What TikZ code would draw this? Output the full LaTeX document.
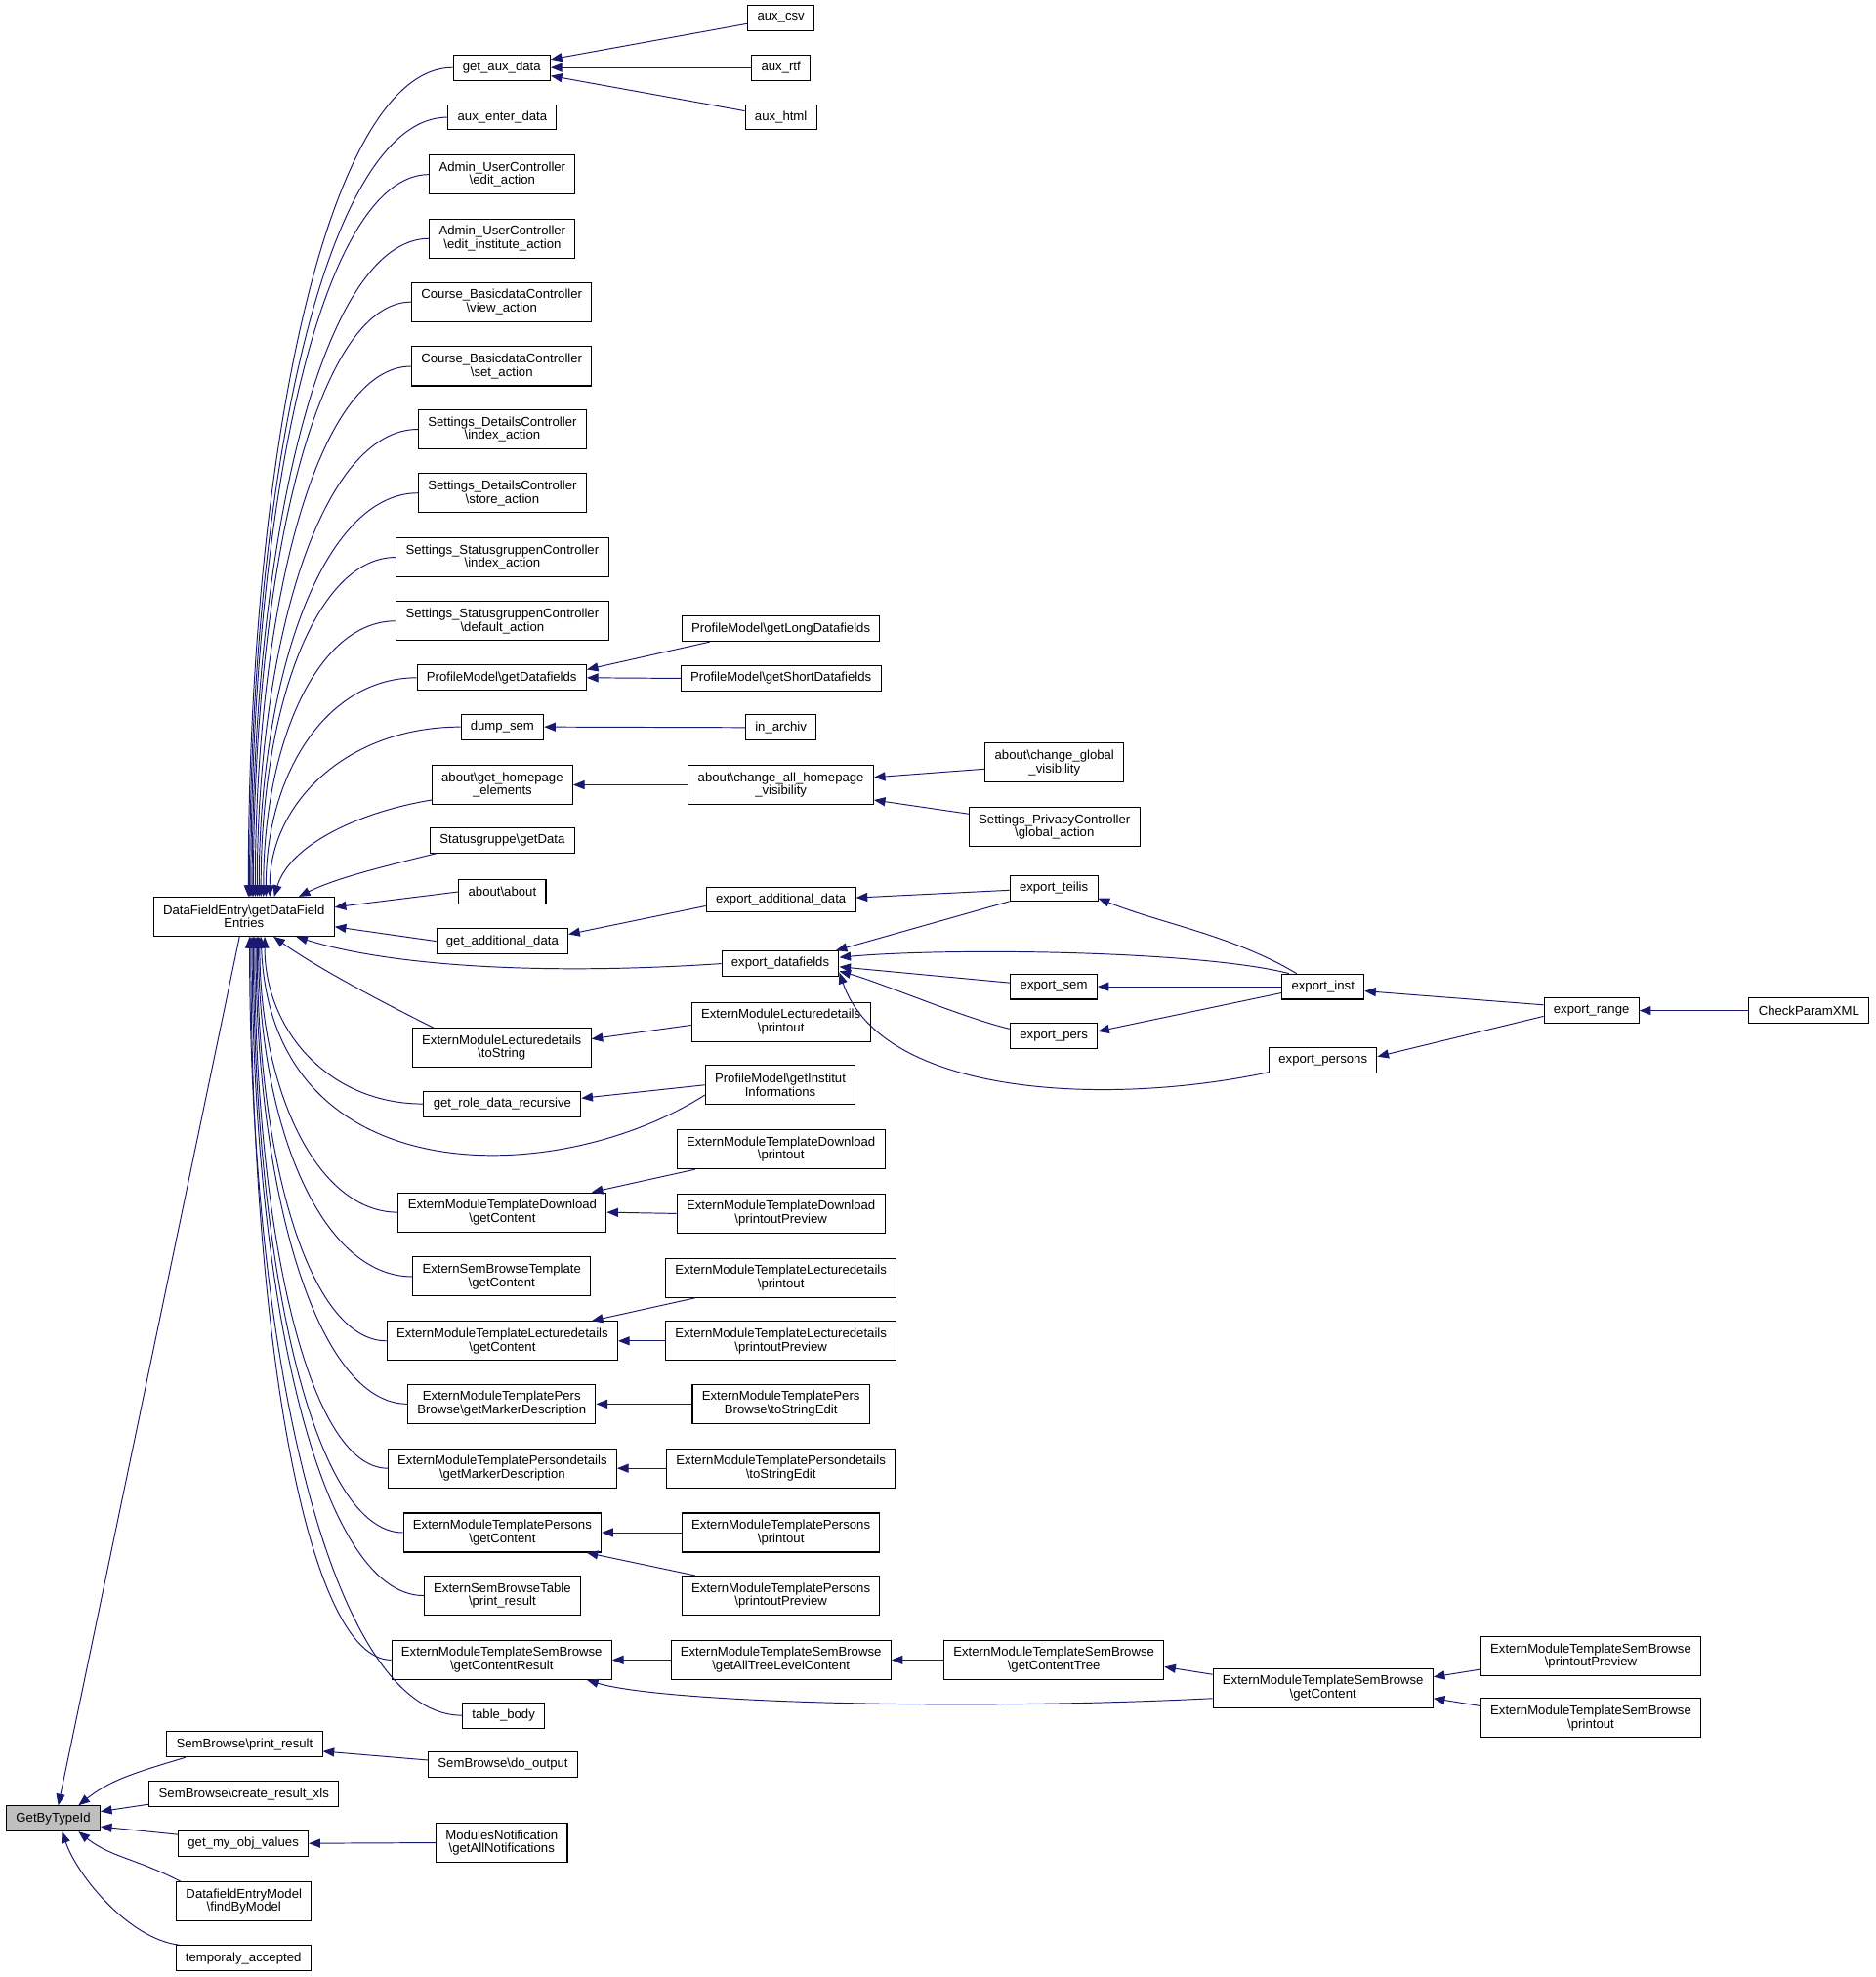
\documentclass[tikz,border=0pt]{standalone}
\usepackage{fontspec}
\setmainfont{Liberation Sans}
\usepackage{tikz}
\usetikzlibrary{arrows.meta}
\definecolor{edgeblue}{HTML}{191970}
\definecolor{hitgray}{HTML}{BFBFBF}

\begin{document}
\begin{tikzpicture}[x=1pt,y=-1pt,>={Triangle[length=9pt,width=7pt]},
  fnbox/.style={draw,line width=0.8pt,fill=white,inner xsep=7.6pt,inner ysep=0pt,
    minimum height=20pt,align=center,font=\fontsize{10.2}{10.6}\selectfont},
  fnbox2/.style={fnbox,minimum height=31pt},
  call/.style={->,draw=edgeblue,line width=0.75pt}]
  \useasboundingbox (0,0) rectangle (1488,1568);

  % root and its direct callers
  \node[fnbox,fill=hitgray] (gbt) at (42.25,1442.25) {GetByTypeId};
  \node[fnbox2] (dfe) at (193.5,727) {DataFieldEntry\textbackslash getDataField\\Entries};
  \node[fnbox] (prres) at (194,1383.5) {SemBrowse\textbackslash print\_result};
  \node[fnbox] (crxls) at (193.5,1423) {SemBrowse\textbackslash create\_result\_xls};
  \node[fnbox] (gmov) at (193,1462) {get\_my\_obj\_values};
  \node[fnbox2] (fbm) at (193.5,1508) {DatafieldEntryModel\\\textbackslash findByModel};
  \node[fnbox] (tacc) at (193,1553) {temporaly\_accepted};

  % callers of getDataFieldEntries
  \node[fnbox] (gad) at (398,53.6) {get\_aux\_data};
  \node[fnbox] (aed) at (398.5,93) {aux\_enter\_data};
  \node[fnbox2] (ueda) at (398.5,138.4) {Admin\_UserController\\\textbackslash edit\_action};
  \node[fnbox2] (ueia) at (398.5,189.2) {Admin\_UserController\\\textbackslash edit\_institute\_action};
  \node[fnbox2] (cbvw) at (398,239.5) {Course\_BasicdataController\\\textbackslash view\_action};
  \node[fnbox2] (cbst) at (398,290.5) {Course\_BasicdataController\\\textbackslash set\_action};
  \node[fnbox2] (sdix) at (398.5,340.5) {Settings\_DetailsController\\\textbackslash index\_action};
  \node[fnbox2] (sdst) at (398.5,391) {Settings\_DetailsController\\\textbackslash store\_action};
  \node[fnbox2] (ssix) at (398.5,442) {Settings\_StatusgruppenController\\\textbackslash index\_action};
  \node[fnbox2] (ssdf) at (398.5,492.5) {Settings\_StatusgruppenController\\\textbackslash default\_action};
  \node[fnbox] (gdf) at (398,537.5) {ProfileModel\textbackslash getDatafields};
  \node[fnbox] (dsem) at (398.5,576.5) {dump\_sem};
  \node[fnbox2] (ghe) at (398.5,622.5) {about\textbackslash get\_homepage\\\_elements};
  \node[fnbox] (sgd) at (398.5,666.5) {Statusgruppe\textbackslash getData};
  \node[fnbox] (abt) at (398.5,707.3) {about\textbackslash about};
  \node[fnbox] (gadd) at (398.5,746.5) {get\_additional\_data};
  \node[fnbox2] (elts) at (398,831) {ExternModuleLecturedetails\\\textbackslash toString};
  \node[fnbox] (grdr) at (398.5,875.5) {get\_role\_data\_recursive};
  \node[fnbox2] (mdgc) at (398.5,961.5) {ExternModuleTemplateDownload\\\textbackslash getContent};
  \node[fnbox2] (sbtg) at (398,1012.5) {ExternSemBrowseTemplate\\\textbackslash getContent};
  \node[fnbox2] (mlgc) at (398.5,1063.5) {ExternModuleTemplateLecturedetails\\\textbackslash getContent};
  \node[fnbox2] (mpbm) at (398,1113.5) {ExternModuleTemplatePers\\Browse\textbackslash getMarkerDescription};
  \node[fnbox2] (mpdm) at (398.5,1164.5) {ExternModuleTemplatePersondetails\\\textbackslash getMarkerDescription};
  \node[fnbox2] (mpgc) at (398.5,1215.5) {ExternModuleTemplatePersons\\\textbackslash getContent};
  \node[fnbox2] (sbtp) at (398.5,1265.5) {ExternSemBrowseTable\\\textbackslash print\_result};
  \node[fnbox2] (msgr) at (398,1316.5) {ExternModuleTemplateSemBrowse\\\textbackslash getContentResult};
  \node[fnbox] (tbody) at (399.5,1360.5) {table\_body};
  \node[fnbox] (sbdo) at (399,1399.5) {SemBrowse\textbackslash do\_output};
  \node[fnbox2] (mnot) at (398,1461.5) {ModulesNotification\\\textbackslash getAllNotifications};

  % third column
  \node[fnbox] (acsv) at (619.5,14.2) {aux\_csv};
  \node[fnbox] (artf) at (619.5,53.6) {aux\_rtf};
  \node[fnbox] (ahtm) at (619.5,93) {aux\_html};
  \node[fnbox] (pmld) at (619.5,498.7) {ProfileModel\textbackslash getLongDatafields};
  \node[fnbox] (pmsd) at (619.5,538) {ProfileModel\textbackslash getShortDatafields};
  \node[fnbox] (inar) at (619.5,577) {in\_archiv};
  \node[fnbox2] (cahv) at (619.5,622.5) {about\textbackslash change\_all\_homepage\\\_visibility};
  \node[fnbox] (eadd) at (619.5,713.5) {export\_additional\_data};
  \node[fnbox] (exdf) at (619,764.3) {export\_datafields};
  \node[fnbox2] (elpr) at (619.5,810.5) {ExternModuleLecturedetails\\\textbackslash printout};
  \node[fnbox2] (pmii) at (619,860.5) {ProfileModel\textbackslash getInstitut\\Informations};
  \node[fnbox2] (mdpr) at (619.5,911.5) {ExternModuleTemplateDownload\\\textbackslash printout};
  \node[fnbox2] (mdpp) at (619.5,962.5) {ExternModuleTemplateDownload\\\textbackslash printoutPreview};
  \node[fnbox2] (mlpr) at (619.5,1013.5) {ExternModuleTemplateLecturedetails\\\textbackslash printout};
  \node[fnbox2] (mlpp) at (619.5,1063.5) {ExternModuleTemplateLecturedetails\\\textbackslash printoutPreview};
  \node[fnbox2] (mpbs) at (619.5,1113.5) {ExternModuleTemplatePers\\Browse\textbackslash toStringEdit};
  \node[fnbox2] (mpds) at (619.5,1164.5) {ExternModuleTemplatePersondetails\\\textbackslash toStringEdit};
  \node[fnbox2] (mppr) at (619.5,1215.5) {ExternModuleTemplatePersons\\\textbackslash printout};
  \node[fnbox2] (mppp) at (619.5,1265.5) {ExternModuleTemplatePersons\\\textbackslash printoutPreview};
  \node[fnbox2] (msat) at (619.5,1316.5) {ExternModuleTemplateSemBrowse\\\textbackslash getAllTreeLevelContent};

  % further right
  \node[fnbox2] (cgv) at (836.5,605) {about\textbackslash change\_global\\\_visibility};
  \node[fnbox2] (spga) at (836.5,655.8) {Settings\_PrivacyController\\\textbackslash global\_action};
  \node[fnbox] (etei) at (836,704.5) {export\_teilis};
  \node[fnbox] (esem) at (836,782.5) {export\_sem};
  \node[fnbox] (epers) at (836,821.5) {export\_pers};
  \node[fnbox2] (msct) at (836,1316.5) {ExternModuleTemplateSemBrowse\\\textbackslash getContentTree};
  \node[fnbox] (einst) at (1049.5,782.5) {export\_inst};
  \node[fnbox] (eprs) at (1049.5,841) {export\_persons};
  \node[fnbox2] (msgc) at (1049.5,1339) {ExternModuleTemplateSemBrowse\\\textbackslash getContent};
  \node[fnbox] (erng) at (1262.5,801.5) {export\_range};
  \node[fnbox2] (mspp) at (1262,1313.5) {ExternModuleTemplateSemBrowse\\\textbackslash printoutPreview};
  \node[fnbox2] (mspr) at (1262,1362.5) {ExternModuleTemplateSemBrowse\\\textbackslash printout};
  \node[fnbox] (cpx) at (1435,801.5) {CheckParamXML};

  % calls into GetByTypeId
  \draw[call] ([xshift=-3.5pt]dfe.south) -- ([xshift=4pt]gbt.north);
  \draw[call] ([xshift=-47pt]prres.south) .. controls +(-40,12) and +(25,-20) .. ([xshift=20pt]gbt.north);
  \draw[call] ([yshift=-8pt]crxls.west) -- ([yshift=5.5pt]gbt.east);
  \draw[call] ([yshift=7pt]gmov.west) -- ([yshift=-6.5pt]gbt.east);
  \draw[call] ([xshift=3.5pt]fbm.north west) .. controls +(-35,-18) and +(25,20) .. ([xshift=20pt]gbt.south);
  \draw[call] ([xshift=3pt]tacc.north west) .. controls +(-40,-5) and +(12,35) .. ([xshift=7pt]gbt.south);
  \draw[call] ([yshift=3.5pt]sbdo.west) -- ([yshift=-5.5pt]prres.east);
  \draw[call] (mnot.west) -- (gmov.east);

  % calls into getDataFieldEntries, from above
  \draw[call] (gad.west) .. controls +(-97,0) and +(0,-362) .. ([xshift=3.5pt]dfe.north);
  \draw[call] (aed.west) .. controls +(-95,0) and +(0,-340) .. ([xshift=4.5pt]dfe.north);
  \draw[call] (ueda.west) .. controls +(-85,0) and +(0,-315) .. ([xshift=5.5pt]dfe.north);
  \draw[call] (ueia.west) .. controls +(-84,0) and +(0,-287) .. ([xshift=6.5pt]dfe.north);
  \draw[call] (cbvw.west) .. controls +(-75,0) and +(0,-260) .. ([xshift=7.5pt]dfe.north);
  \draw[call] (cbst.west) .. controls +(-74,0) and +(0,-232) .. ([xshift=9pt]dfe.north);
  \draw[call] (sdix.west) .. controls +(-76,0) and +(0,-204) .. ([xshift=10.5pt]dfe.north);
  \draw[call] (sdst.west) .. controls +(-75,0) and +(0,-176) .. ([xshift=12pt]dfe.north);
  \draw[call] (ssix.west) .. controls +(-64,0) and +(0,-148) .. ([xshift=13.5pt]dfe.north);
  \draw[call] (ssdf.west) .. controls +(-63,0) and +(0,-120) .. ([xshift=15.5pt]dfe.north);
  \draw[call] (gdf.west) .. controls +(-72,0) and +(0,-96) .. ([xshift=17.5pt]dfe.north);
  \draw[call] (dsem.west) .. controls +(-90,0) and +(0,-74) .. ([xshift=20.5pt]dfe.north);
  \draw[call] ([yshift=-12pt]ghe.west) .. controls +(-60,10) and +(12,-40) .. ([xshift=24pt]dfe.north);
  \draw[call] ([xshift=5pt]sgd.south west) .. controls +(-40,10) and +(30,-15) .. ([xshift=43.5pt]dfe.north);
  \draw[call] (abt.west) -- ([yshift=7.5pt]dfe.east);
  \draw[call] (gadd.west) -- ([yshift=-8pt]dfe.east);

  % calls into getDataFieldEntries, from below
  \draw[call] (exdf.west) .. controls +(-150,10) and +(70,22) .. ([xshift=41.5pt]dfe.south);
  \draw[call] ([xshift=17pt]elts.north west) .. controls +(-40,-20) and +(35,25) .. ([xshift=23.5pt]dfe.south);
  \draw[call] (grdr.west) .. controls +(-76,0) and +(0,73) .. ([xshift=16.5pt]dfe.south);
  \draw[call] ([yshift=-8pt]pmii.west) .. controls +(-118,75) and +(8,205) .. ([xshift=13.5pt]dfe.south);
  \draw[call] (mdgc.west) .. controls +(-65,0) and +(0,120) .. ([xshift=12.5pt]dfe.south);
  \draw[call] (sbtg.west) .. controls +(-73,0) and +(0,148) .. ([xshift=11.5pt]dfe.south);
  \draw[call] (mlgc.west) .. controls +(-61,0) and +(0,177) .. ([xshift=10.5pt]dfe.south);
  \draw[call] (mpbm.west) .. controls +(-71,0) and +(0,204) .. ([xshift=9.5pt]dfe.south);
  \draw[call] (mpdm.west) .. controls +(-63,0) and +(0,232) .. ([xshift=8.5pt]dfe.south);
  \draw[call] (mpgc.west) .. controls +(-71,0) and +(0,260) .. ([xshift=7.5pt]dfe.south);
  \draw[call] (sbtp.west) .. controls +(-82,0) and +(0,288) .. ([xshift=6.5pt]dfe.south);
  \draw[call] (msgr.west) .. controls +(-67,0) and +(0,316) .. ([xshift=5.5pt]dfe.south);
  \draw[call] (tbody.west) .. controls +(-102,0) and +(0,340) .. ([xshift=4.5pt]dfe.south);

  % second level calls
  \draw[call] ([yshift=-4.6pt]acsv.west) -- ([yshift=6.5pt]gad.east);
  \draw[call] (artf.west) -- (gad.east);
  \draw[call] ([yshift=5pt]ahtm.west) -- ([yshift=-6.5pt]gad.east);
  \draw[call] ([xshift=-56.5pt]pmld.south) -- ([yshift=6.5pt]gdf.east);
  \draw[call] (pmsd.west) -- (gdf.east);
  \draw[call] (inar.west) -- (dsem.east);
  \draw[call] (cahv.west) -- (ghe.east);
  \draw[call] ([yshift=-4.9pt]cgv.west) -- ([yshift=6pt]cahv.east);
  \draw[call] ([yshift=10.3pt]spga.west) -- ([yshift=-12pt]cahv.east);
  \draw[call] ([yshift=-5pt]eadd.west) -- ([yshift=5.5pt]gadd.east);
  \draw[call] ([yshift=-1.5pt]etei.west) -- ([yshift=1.5pt]eadd.east);
  \draw[call] (etei.south west) -- ([xshift=44pt]exdf.north);
  \draw[call] ([xshift=6pt]einst.north west) .. controls +(-70,-18) and +(90,-8) .. ([yshift=5pt]exdf.east);
  \draw[call] ([yshift=3pt]esem.west) -- ([yshift=-2.5pt]exdf.east);
  \draw[call] ([yshift=5.5pt]epers.west) .. controls +(-35,-8) and +(30,8) .. ([yshift=-6pt]exdf.east);
  \draw[call] ([yshift=1pt]eprs.south west) .. controls +(-126,27) and +(34,99) .. ([yshift=-7pt]exdf.east);
  \draw[call] ([xshift=12pt]einst.north west) .. controls +(-50,-30) and +(50,20) .. ([yshift=-8pt]etei.east);
  \draw[call] (einst.west) -- (esem.east);
  \draw[call] ([yshift=-5pt]einst.west) -- ([yshift=3.5pt]epers.east);
  \draw[call] ([yshift=4.5pt]erng.west) -- ([yshift=-3.5pt]einst.east);
  \draw[call] ([yshift=-4.5pt]erng.west) -- ([yshift=3pt]eprs.east);
  \draw[call] (cpx.west) -- (erng.east);
  \draw[call] ([yshift=-2.5pt]elpr.west) -- ([yshift=7pt]elts.east);
  \draw[call] (pmii.west) -- ([yshift=4.5pt]grdr.east);
  \draw[call] ([xshift=15pt]mdpr.south west) -- ([xshift=-12pt]mdgc.north east);
  \draw[call] (mdpp.west) -- (mdgc.east);
  \draw[call] ([xshift=24pt]mlpr.south west) -- ([xshift=-21pt]mlgc.north east);
  \draw[call] (mlpp.west) -- (mlgc.east);
  \draw[call] (mpbs.west) -- (mpbm.east);
  \draw[call] (mpds.west) -- (mpdm.east);
  \draw[call] (mppr.west) -- (mpgc.east);
  \draw[call] ([xshift=11pt]mppp.north west) -- ([xshift=-12pt]mpgc.south east);
  \draw[call] (msat.west) -- (msgr.east);
  \draw[call] (msct.west) -- (msat.east);
  \draw[call] ([yshift=11pt]msgc.west) -- ([yshift=-5.5pt]msct.east);
  \draw[call] ([yshift=-8pt]msgc.west) .. controls +(-200,10) and +(60,18) .. ([xshift=-20pt]msgr.south east);
  \draw[call] ([yshift=-10.5pt]mspp.west) -- ([yshift=9pt]msgc.east);
  \draw[call] ([yshift=9.5pt]mspr.west) -- ([yshift=-8pt]msgc.east);
\end{tikzpicture}
\end{document}
